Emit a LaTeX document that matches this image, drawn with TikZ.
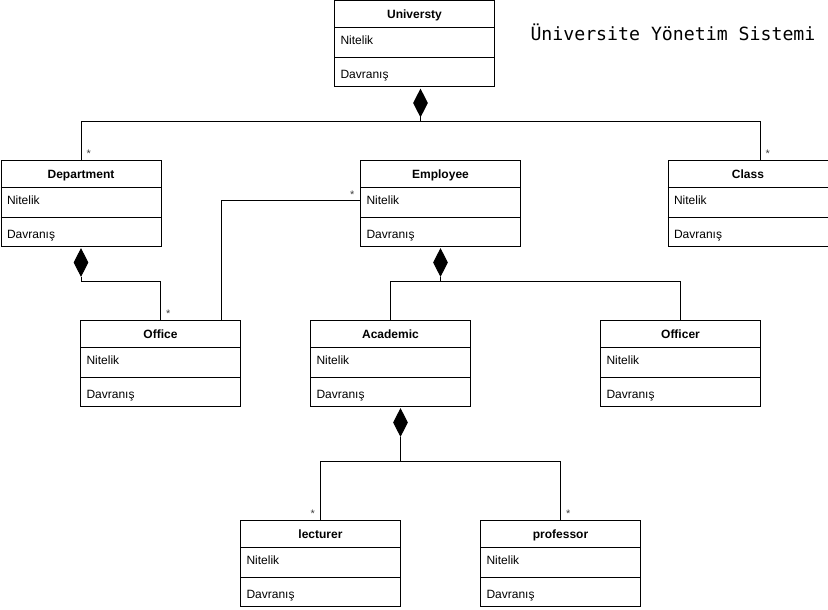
\documentclass[tikz,border=0pt]{standalone}
\usepackage{fontspec}
\setmainfont{Liberation Sans}
\newfontfamily\titlefont{DejaVu Sans Mono}
\usetikzlibrary{calc,shapes.geometric}

% one class box: name, x, y, title
\newcommand{\umlclass}[4]{%
 \node (#1) [classbox] at (#2,#3) {};
 \node (#1-head) [head] at ($(#1.north)+(0,18)$) {#4};
 \draw ($(#1.north west)+(0,27)$) -- ($(#1.north east)+(0,27)$);
 \draw ($(#1.north west)+(0,57)$) -- ($(#1.north east)+(0,57)$);
 \node (#1-attr) [member] at ($(#1.north west)+(6,44.5)$) {Nitelik};
 \node (#1-ops) [member] at ($(#1.north west)+(6,78)$) {Davranış};
}

\begin{document}
\begin{tikzpicture}[
 x=1pt, y=-1pt,
 line width=1pt,
 font=\fontsize{12}{14}\selectfont,
 classbox/.style={draw=black,rectangle,minimum width=160pt,minimum height=86pt,inner sep=0pt,anchor=north west},
 head/.style={font=\fontsize{12}{14}\selectfont\bfseries,anchor=base,inner sep=0pt},
 member/.style={anchor=base west,inner sep=0pt},
 comp/.style={draw=black,fill=black,diamond,minimum width=14pt,minimum height=27pt,inner sep=0pt,anchor=north},
 mult/.style={font=\fontsize{11}{12}\selectfont,text=black!75,inner xsep=5pt,inner ysep=2pt}
]
\useasboundingbox (0,0) rectangle (828,610);
\node (title) [font=\titlefont\fontsize{18.2}{20}\selectfont,anchor=base west,inner sep=0pt] at (530,41) {Üniversite Yönetim Sistemi};

\umlclass{universty}{334}{0.5}{Universty}
\umlclass{department}{0.5}{160}{Department}
\umlclass{employee}{360}{160}{Employee}
\umlclass{class}{667.5}{160}{Class}
\umlclass{office}{80}{320}{Office}
\umlclass{academic}{310}{320}{Academic}
\umlclass{officer}{600}{320}{Officer}
\umlclass{lecturer}{240}{520}{lecturer}
\umlclass{professor}{480}{520}{professor}

\node (universty-dia) [comp] at ($(universty.south)+(6,1.5)$) {};
\node (department-dia) [comp] at ($(department.south)+(0,1.5)$) {};
\node (employee-dia) [comp] at ($(employee.south)+(0,1.5)$) {};
\node (academic-dia) [comp] at ($(academic.south)+(10,1.5)$) {};

\draw (universty-dia.south) -- ++(0,4.5) -| (department.north)
 node (department-mult) [mult,anchor=south west] {*};
\draw (universty-dia.south) -- ++(0,4.5) -| ([xshift=12pt]class.north)
 node (class-mult) [mult,anchor=south west] {*};
\draw (department-dia.south) -- ++(0,5) -| (office.north)
 node (office-mult) [mult,anchor=south west] {*};
\draw ([yshift=3pt]employee.west)
 node (employee-mult) [mult,anchor=south east] {*}
 -| ([xshift=-20pt]office.north east);
\draw (employee-dia.south) -- ++(0,5) -| (academic.north);
\draw (employee-dia.south) -- ++(0,5) -| (officer.north);
\draw (academic-dia.south) -- ++(0,25) -| (lecturer.north)
 node (lecturer-mult) [mult,anchor=south east] {*};
\draw (academic-dia.south) -- ++(0,25) -| (professor.north)
 node (professor-mult) [mult,anchor=south west] {*};
\end{tikzpicture}
\end{document}
